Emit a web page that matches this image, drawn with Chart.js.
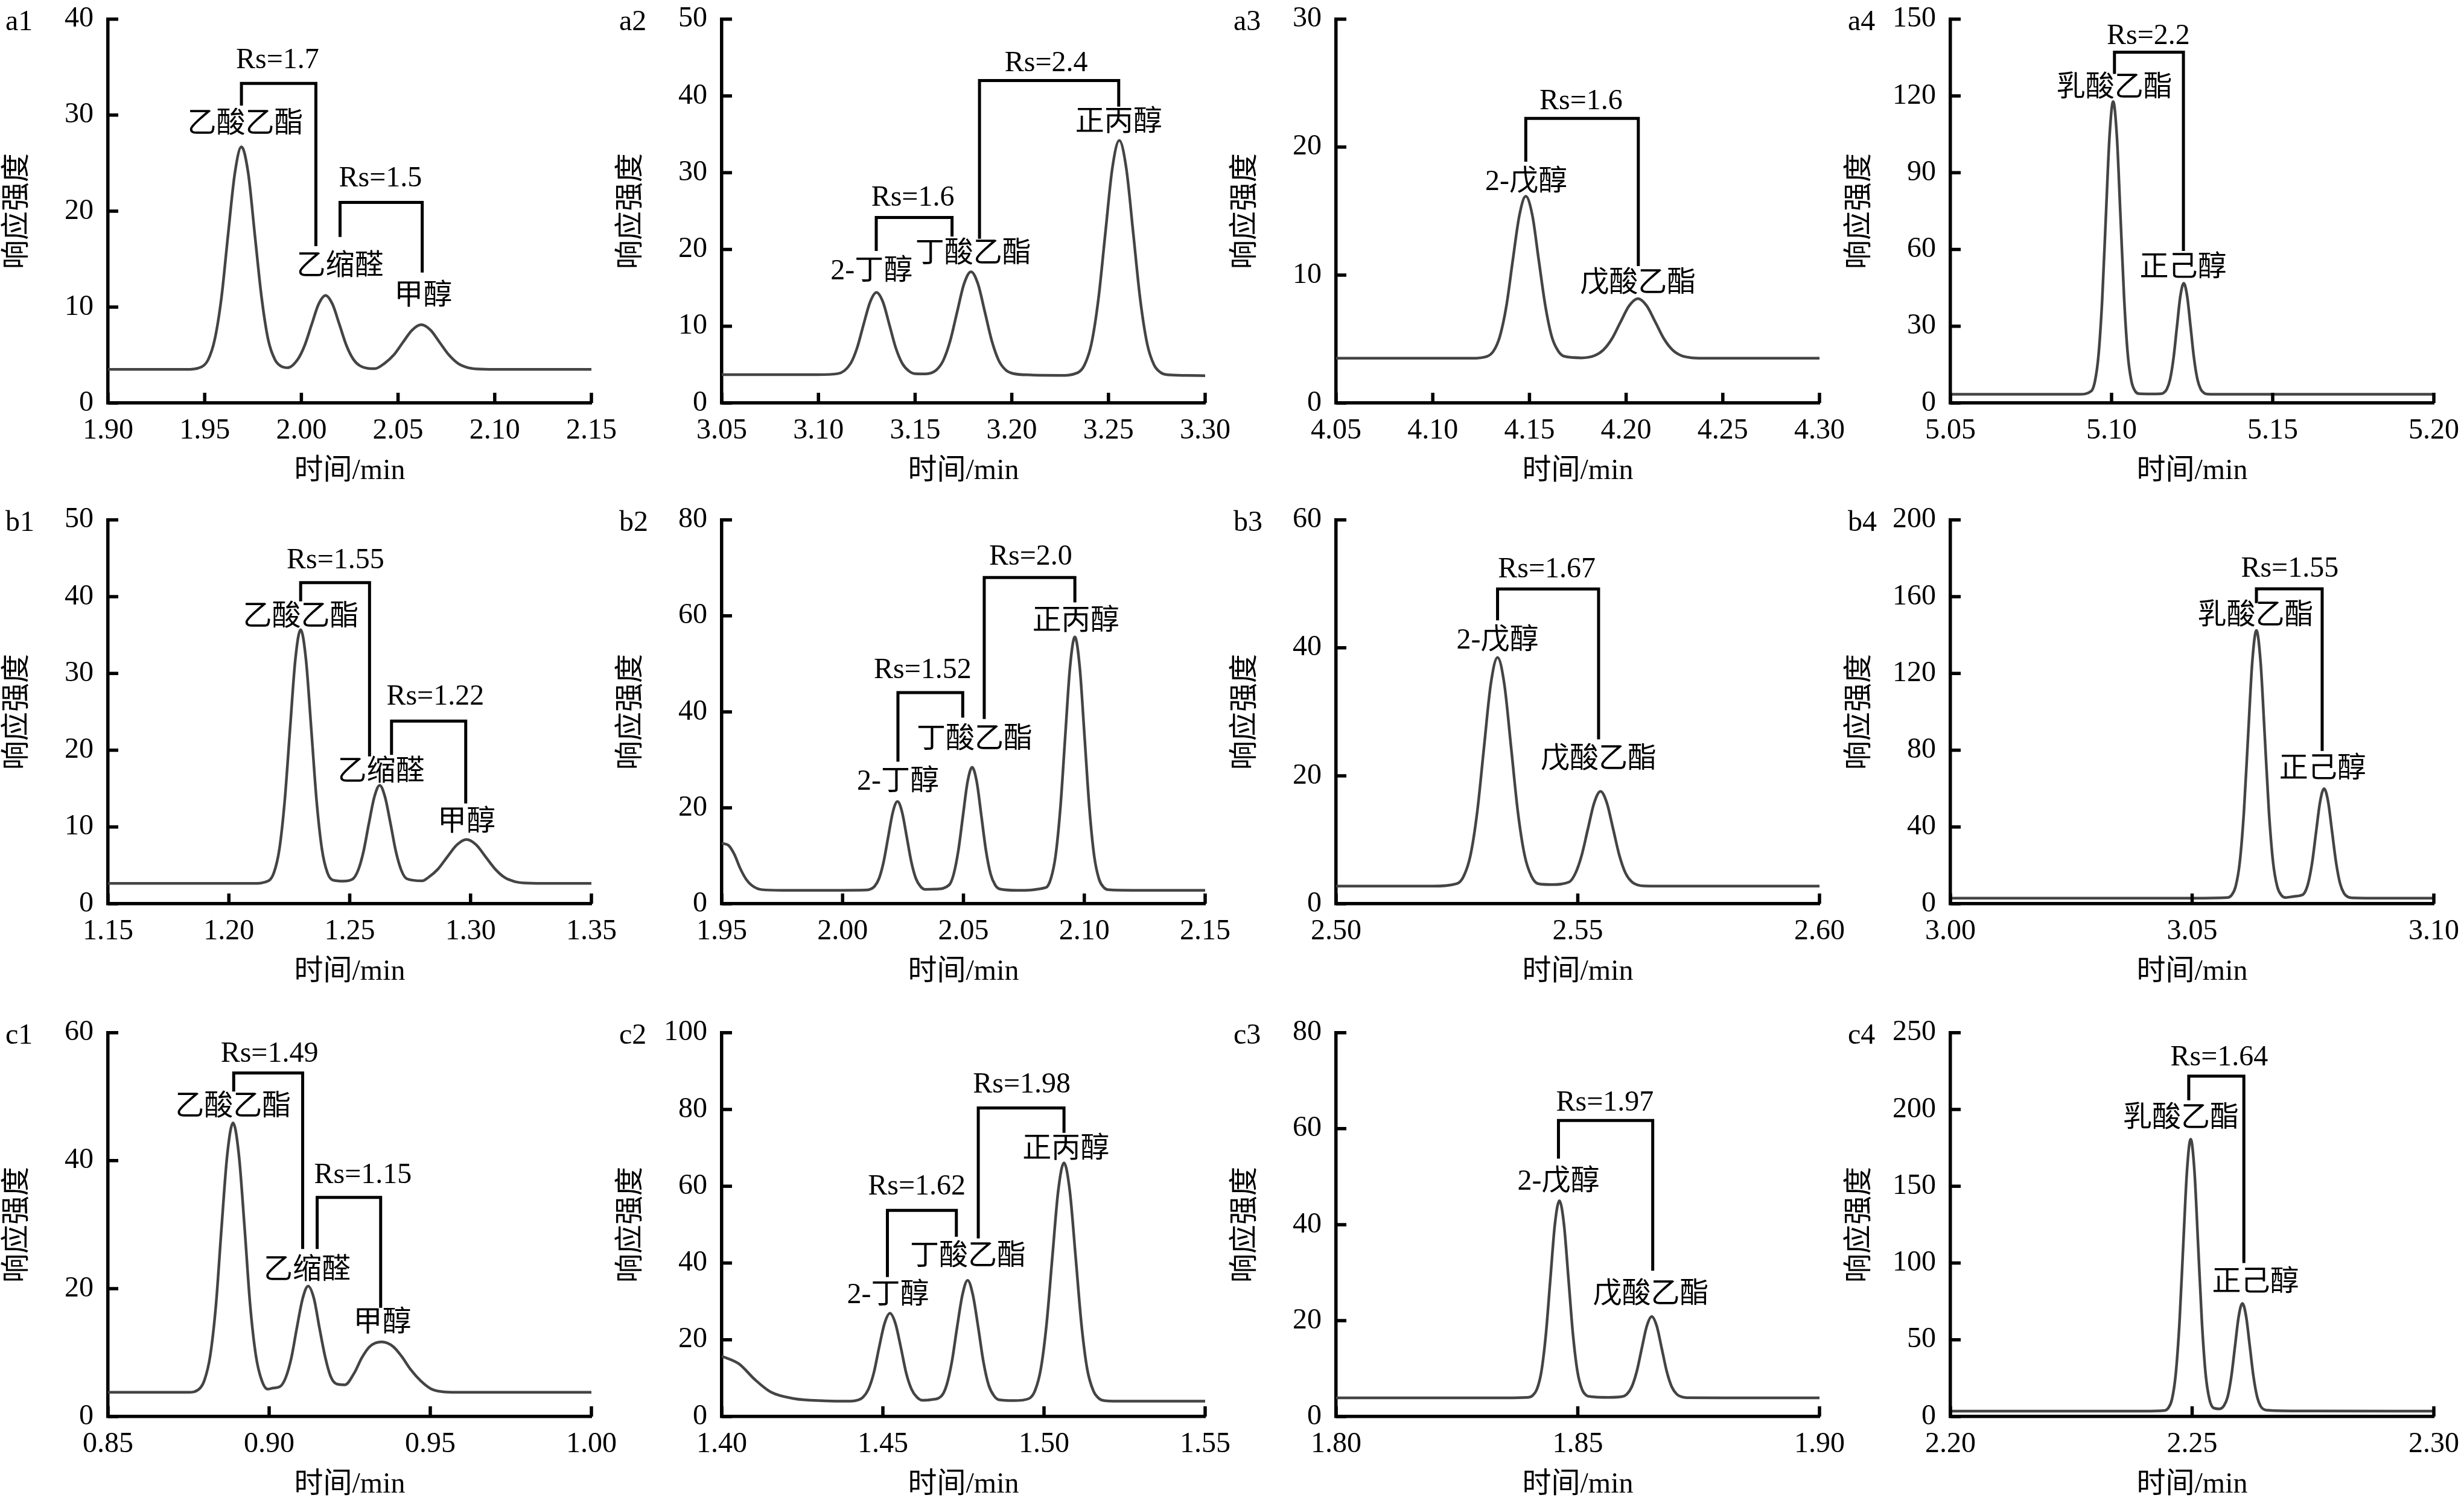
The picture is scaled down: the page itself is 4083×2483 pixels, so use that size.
<!DOCTYPE html>
<html>
<head>
<meta charset="utf-8">
<script src="https://cdn.jsdelivr.net/npm/chart.js@4.4.0/dist/chart.umd.min.js"></script>
<style>
  body { margin: 0; background: #fff; width: 4083px; height: 2483px; position: relative; overflow: hidden; }
  canvas { position: absolute; }
</style>
</head>
<body>
<script>
// ---- a1 ----
const timeA1 = [1.90, 1.94,
  1.9483, 1.9518, 1.9552, 1.9587, 1.9621, 1.9656, 1.969, 1.9725, 1.9759, 1.9794, 1.9828, 1.9863, 1.9897,
  1.993,
  1.9981, 2.0017, 2.0053, 2.0089, 2.0125, 2.0161, 2.0197, 2.0233, 2.0269, 2.0305,
  2.038,
  2.043, 2.0478, 2.0525, 2.0573, 2.062, 2.0668, 2.0715, 2.0763, 2.081, 2.0858, 2.0905,
  2.10, 2.15];
const respA1 = [3.5, 3.5,
  3.76, 4.52, 6.63, 11.04, 17.58, 23.96, 26.7, 23.96, 17.58, 11.04, 6.63, 4.53, 3.81,
  3.68,
  4.54, 6.0, 8.17, 10.29, 11.2, 10.29, 8.17, 6.0, 4.55, 3.86,
  3.58,
  4.13, 5.01, 6.32, 7.6, 8.15, 7.6, 6.32, 5.01, 4.13, 3.7, 3.55,
  3.5, 3.5];
const xTicksA1 = [1.90, 1.95, 2.00, 2.05, 2.10, 2.15];
const yTicksA1 = [0, 10, 20, 30, 40];
const namesA1 = [['乙酸乙酯', 1.971, 29.05], ['乙缩醛', 2.020, 14.2], ['甲醇', 2.063, 11.1]];
const bracketsA1 = [[1.969, 2.0075, 33.3, 31.0, 16.35], [2.020, 2.0625, 20.9, 17.3, 13.6]];
const rsA1 = [['Rs=1.7', 1.9877, 35.7], ['Rs=1.5', 2.0409, 23.35]];

// ---- a2 ----
const timeA2 = [3.05, 3.10,
  3.1099, 3.1166, 3.12, 3.1233, 3.1267, 3.13, 3.1334, 3.1367, 3.14, 3.1434, 3.1468, 3.1501,
  3.1555,
  3.1609, 3.1645, 3.1681, 3.1717, 3.1753, 3.1789, 3.1825, 3.1861, 3.1897, 3.1933, 3.1969, 3.2005,
  3.21, 3.225,
  3.234, 3.2376, 3.2412, 3.2448, 3.2484, 3.252, 3.2556, 3.2592, 3.2628, 3.2664, 3.27, 3.2736, 3.2772, 3.2808,
  3.29, 3.30];
const respA2 = [3.7, 3.7,
  3.82, 5.14, 7.18, 10.19, 13.14, 14.4, 13.14, 10.19, 7.18, 5.14, 4.17, 3.82,
  3.8,
  4.29, 5.51, 8.06, 11.83, 15.52, 17.1, 15.52, 11.83, 8.06, 5.51, 4.29, 3.85,
  3.65, 3.6,
  3.94, 4.95, 7.73, 13.55, 22.17, 30.59, 34.2, 30.59, 22.17, 13.55, 7.73, 4.95, 3.94, 3.67,
  3.6, 3.55];
const xTicksA2 = [3.05, 3.10, 3.15, 3.20, 3.25, 3.30];
const yTicksA2 = [0, 10, 20, 30, 40, 50];
const namesA2 = [['2-丁醇', 3.1275, 17.1], ['丁酸乙酯', 3.1801, 19.4], ['正丙醇', 3.2553, 36.5]];
const bracketsA2 = [[3.1299, 3.1691, 24.16, 19.8, 21.7], [3.1833, 3.2553, 42.0, 21.4, 38.6]];
const rsA2 = [['Rs=1.6', 3.1488, 26.7], ['Rs=2.4', 3.2178, 44.2]];

// ---- a3 ----
const timeA3 = [4.05, 4.12,
  4.128, 4.1314, 4.1347, 4.1381, 4.1414, 4.1448, 4.1481, 4.1515, 4.1548, 4.1582, 4.1615, 4.1649, 4.1682,
  4.177,
  4.1836, 4.1881, 4.1926, 4.1971, 4.2016, 4.2061, 4.2106, 4.2151, 4.2196, 4.2241, 4.2286, 4.2331,
  4.24, 4.30];
const respA3 = [3.5, 3.5,
  3.64, 4.06, 5.21, 7.61, 11.18, 14.67, 16.16, 14.67, 11.18, 7.61, 5.21, 4.06, 3.64,
  3.53,
  3.7, 4.13, 5.01, 6.33, 7.61, 8.16, 7.61, 6.33, 5.01, 4.13, 3.7, 3.55,
  3.5, 3.5];
const xTicksA3 = [4.05, 4.10, 4.15, 4.20, 4.25, 4.30];
const yTicksA3 = [0, 10, 20, 30];
const namesA3 = [['2-戊醇', 4.1483, 17.25], ['戊酸乙酯', 4.2061, 9.3]];
const bracketsA3 = [[4.1481, 4.2063, 22.24, 18.86, 10.7]];
const rsA3 = [['Rs=1.6', 4.1767, 23.55]];

// ---- a4 ----
const timeA4 = [5.05, 5.09,
  5.09369, 5.09483, 5.09596, 5.0971, 5.09823, 5.09937, 5.1005, 5.10164, 5.10277, 5.10391, 5.10504, 5.10618, 5.10731, 5.10845,
  5.112,
  5.11498, 5.11604, 5.1171, 5.11816, 5.11922, 5.12028, 5.12134, 5.1224, 5.12346, 5.12452, 5.12558, 5.12664, 5.1277, 5.12876, 5.12982,
  5.135, 5.20];
const respA4 = [3.4, 3.4,
  4.66, 8.43, 18.84, 40.58, 72.84, 104.3, 117.8, 104.3, 72.84, 40.58, 18.84, 8.43, 4.66, 3.65,
  3.55,
  3.6, 3.88, 5.31, 9.26, 17.5, 29.74, 41.68, 46.8, 41.68, 29.74, 17.5, 9.26, 5.31, 3.88, 3.49,
  3.4, 3.4];
const xTicksA4 = [5.05, 5.10, 5.15, 5.20];
const yTicksA4 = [0, 30, 60, 90, 120, 150];
const namesA4 = [['乳酸乙酯', 5.1009, 123.1], ['正己醇', 5.1222, 52.8]];
const bracketsA4 = [[5.1009, 5.1223, 137.1, 128.6, 59.4]];
const rsA4 = [['Rs=2.2', 5.1114, 143.3]];

// ---- b1 ----
const timeB1 = [1.15, 1.21,
  1.2165, 1.2187, 1.2209, 1.2231, 1.2253, 1.2275, 1.2297, 1.2319, 1.2341, 1.2363, 1.2385, 1.2407, 1.2429,
  1.2475,
  1.2512, 1.2535, 1.2557, 1.2579, 1.2602, 1.2624, 1.2646, 1.2669, 1.2691, 1.2713, 1.2736,
  1.28,
  1.2825, 1.2865, 1.2904, 1.2944, 1.2983, 1.3023, 1.3062, 1.3102, 1.3141, 1.3181, 1.322,
  1.33, 1.35];
const respB1 = [2.65, 2.65,
  3.01, 4.10, 7.12, 13.39, 22.71, 31.80, 35.7, 31.80, 22.71, 13.39, 7.12, 4.10, 3.1,
  2.95,
  3.21, 4.38, 6.80, 10.41, 13.92, 15.43, 13.92, 10.41, 6.81, 4.40, 3.26,
  2.98,
  3.42, 4.51, 6.12, 7.69, 8.37, 7.69, 6.12, 4.51, 3.42, 2.90, 2.71,
  2.65, 2.65];
const xTicksB1 = [1.15, 1.20, 1.25, 1.30, 1.35];
const yTicksB1 = [0, 10, 20, 30, 40, 50];
const namesB1 = [['乙酸乙酯', 1.2298, 37.3], ['乙缩醛', 1.263, 17.1], ['甲醇', 1.2983, 10.55]];
const bracketsB1 = [[1.2297, 1.2582, 41.84, 39.4, 19.2], [1.2673, 1.298, 23.8, 19.4, 13.06]];
const rsB1 = [['Rs=1.55', 1.2441, 44.7], ['Rs=1.22', 1.2854, 26.9]];

// ---- b2 ----
const timeB2 = [1.95, 1.9528, 1.9552, 1.9576, 1.9601, 1.9625, 1.9666, 1.975, 2.0,
  2.0094,
  2.0113, 2.0132, 2.0151, 2.017, 2.0189, 2.0208, 2.0227, 2.0246, 2.0265, 2.0284, 2.0303, 2.0322, 2.0341,
  2.0385,
  2.0441, 2.046, 2.0479, 2.0498, 2.0517, 2.0536, 2.0555, 2.0574, 2.0593, 2.0612, 2.0631, 2.065,
  2.072,
  2.0841, 2.0861, 2.0881, 2.0901, 2.0921, 2.0941, 2.0961, 2.0981, 2.1001, 2.1021, 2.1041, 2.1061, 2.1081, 2.1101,
  2.12, 2.15];
const respB2 = [12.6, 12.16, 10.3, 7.4, 5.1, 3.8, 2.94, 2.8, 2.8,
  2.85,
  3.0, 3.61, 5.30, 8.81, 14.03, 19.12, 21.3, 19.12, 14.03, 8.81, 5.30, 3.61, 3.0,
  3.05,
  3.93, 6.26, 11.14, 18.37, 25.42, 28.45, 25.42, 18.37, 11.14, 6.26, 3.93, 3.08,
  2.8,
  3.38, 5.12, 9.93, 19.96, 34.85, 49.37, 55.6, 49.37, 34.85, 19.96, 9.93, 5.12, 3.38, 2.91,
  2.8, 2.8];
const xTicksB2 = [1.95, 2.00, 2.05, 2.10, 2.15];
const yTicksB2 = [0, 20, 40, 60, 80];
const namesB2 = [['2-丁醇', 2.0229, 25.4], ['丁酸乙酯', 2.0546, 34.2], ['正丙醇', 2.0965, 58.8]];
const bracketsB2 = [[2.0229, 2.0497, 44.0, 29.6, 38.8], [2.0586, 2.0961, 68.0, 38.5, 62.8]];
const rsB2 = [['Rs=1.52', 2.0331, 48.6], ['Rs=2.0', 2.0778, 72.3]];

// ---- b3 ----
const timeB3 = [2.50, 2.52,
  2.525, 2.5264, 2.5278, 2.5292, 2.5306, 2.532, 2.5334, 2.5348, 2.5362, 2.5376, 2.539, 2.5404, 2.5418,
  2.5445,
  2.5482, 2.5495, 2.5508, 2.5521, 2.5534, 2.5547, 2.556, 2.5573, 2.5586, 2.5599, 2.5612, 2.5625, 2.5638,
  2.57, 2.60];
const respB3 = [2.75, 2.75,
  3.14, 4.32, 7.58, 14.38, 24.48, 34.33, 38.5, 34.33, 24.48, 14.38, 7.58, 4.32, 3.14,
  3.0,
  3.40, 4.75, 7.56, 11.73, 15.80, 17.57, 15.80, 11.73, 7.56, 4.75, 3.40, 2.91, 2.78,
  2.75, 2.75];
const xTicksB3 = [2.50, 2.55, 2.60];
const yTicksB3 = [0, 20, 40, 60];
const namesB3 = [['2-戊醇', 2.5334, 41.1], ['戊酸乙酯', 2.5543, 22.5]];
const bracketsB3 = [[2.5334, 2.5543, 49.2, 44.3, 25.7]];
const rsB3 = [['Rs=1.67', 2.5436, 52.2]];

// ---- b4 ----
const timeB4 = [3.00, 3.05,
  3.05728, 3.05814, 3.059, 3.05986, 3.06072, 3.06158, 3.06244, 3.0633, 3.06416, 3.06502, 3.06588, 3.06674, 3.0676, 3.06846, 3.06932,
  3.071,
  3.07235, 3.07318, 3.0740, 3.07483, 3.07565, 3.07648, 3.0773, 3.07813, 3.07895, 3.07978, 3.0806, 3.08143, 3.08225, 3.08308,
  3.09, 3.10];
const respB4 = [2.9, 2.9,
  3.21, 4.43, 9.04, 21.73, 48.24, 87.57, 125.94, 142.4, 125.94, 87.57, 48.24, 21.73, 9.04, 4.43, 3.21,
  3.8,
  4.3, 5.41, 10.61, 21.46, 37.56, 53.26, 60.0, 53.26, 37.56, 21.46, 10.61, 5.41, 3.53, 3.06,
  2.9, 2.9];
const xTicksB4 = [3.00, 3.05, 3.10];
const yTicksB4 = [0, 40, 80, 120, 160, 200];
const namesB4 = [['乳酸乙酯', 3.0631, 149.8], ['正己醇', 3.0770, 70.0]];
const bracketsB4 = [[3.0633, 3.0769, 164.1, 156.6, 79.6]];
const rsB4 = [['Rs=1.55', 3.0702, 174.3]];

// ---- c1 ----
const timeC1 = [0.85, 0.875,
  0.8782, 0.8799, 0.8817, 0.8835, 0.8852, 0.887, 0.8888, 0.8906, 0.8924, 0.8941, 0.8959, 0.8977, 0.8995,
  0.9012,
  0.9034, 0.9051, 0.9069, 0.9086, 0.9104, 0.9121, 0.9139, 0.9156, 0.9174, 0.9191, 0.9209,
  0.9235,
  0.9264, 0.9288, 0.9312, 0.9349, 0.9385, 0.941, 0.944, 0.947, 0.9501, 0.9537,
  0.958, 1.00];
const respC1 = [3.8, 3.8,
  4.26, 5.65, 9.48, 17.48, 29.35, 40.93, 45.9, 40.93, 29.35, 17.48, 9.48, 5.65, 4.29,
  4.45,
  4.7, 6.04, 9.20, 13.88, 18.45, 20.4, 18.45, 13.88, 9.29, 6.25, 5.1,
  4.96,
  6.8, 9.23, 10.93, 11.66, 10.93, 9.48, 7.29, 5.59, 4.37, 3.89,
  3.8, 3.8];
const xTicksC1 = [0.85, 0.90, 0.95, 1.00];
const yTicksC1 = [0, 20, 40, 60];
const namesC1 = [['乙酸乙酯', 0.8888, 48.3], ['乙缩醛', 0.9118, 22.8], ['甲醇', 0.9351, 14.6]];
const bracketsC1 = [[0.889, 0.9104, 53.7, 50.8, 26.2], [0.9149, 0.9346, 34.26, 26.2, 17.0]];
const rsC1 = [['Rs=1.49', 0.9001, 56.6], ['Rs=1.15', 0.9291, 37.7]];

// ---- c2 ----
const timeC2 = [1.40, 1.4054, 1.4102, 1.4151, 1.4224, 1.4321, 1.44,
  1.4421, 1.4438, 1.4455, 1.4472, 1.4488, 1.4505, 1.4522, 1.4539, 1.4556, 1.4572, 1.4589, 1.4606, 1.4623,
  1.465,
  1.4682, 1.4698, 1.4714, 1.473, 1.4747, 1.4763, 1.4779, 1.4796, 1.4812, 1.4828, 1.4845, 1.4861,
  1.4906,
  1.4953, 1.4972, 1.499, 1.5008, 1.5026, 1.5044, 1.5062, 1.508, 1.5098, 1.5116, 1.5134, 1.5153, 1.5171, 1.5189,
  1.525, 1.55];
const respC2 = [15.75, 13.7, 9.7, 6.46, 4.68, 4.1, 4.0,
  4.25, 5.01, 7.09, 11.44, 17.90, 24.20, 26.9, 24.20, 17.90, 11.44, 7.09, 5.01, 4.25,
  4.4,
  5.38, 8.25, 14.24, 23.12, 31.78, 35.5, 31.78, 23.12, 14.24, 8.25, 5.38, 4.35,
  4.15,
  4.68, 6.73, 12.38, 24.18, 41.69, 58.77, 66.1, 58.77, 41.69, 24.18, 12.38, 6.73, 4.68, 4.14,
  4.0, 4.0];
const xTicksC2 = [1.40, 1.45, 1.50, 1.55];
const yTicksC2 = [0, 20, 40, 60, 80, 100];
const namesC2 = [['2-丁醇', 1.4516, 31.5], ['丁酸乙酯', 1.4764, 41.6], ['正丙醇', 1.5068, 69.5]];
const bracketsC2 = [[1.4514, 1.4728, 53.7, 36.35, 46.85], [1.4796, 1.5062, 80.4, 46.4, 73.9]];
const rsC2 = [['Rs=1.62', 1.4605, 59.9], ['Rs=1.98', 1.4931, 86.4]];

// ---- c3 ----
const timeC3 = [1.80, 1.835,
  1.83969, 1.84062, 1.84155, 1.84248, 1.84341, 1.84434, 1.84527, 1.8462, 1.84713, 1.84806, 1.84899, 1.84992, 1.85085, 1.85178, 1.85271,
  1.8564,
  1.85909, 1.86013, 1.86116, 1.8622, 1.86323, 1.86427, 1.8653, 1.86634, 1.86737, 1.8684, 1.86944, 1.87048, 1.87151, 1.87255,
  1.88, 1.90];
const respC3 = [3.9, 3.9,
  3.99, 4.35, 5.71, 9.45, 17.26, 28.85, 40.15, 45.0, 40.15, 28.85, 17.26, 9.45, 5.71, 4.4, 4.15,
  4.0,
  4.15, 4.65, 6.19, 9.41, 14.19, 18.85, 20.85, 18.85, 14.19, 9.41, 6.19, 4.65, 4.09, 3.93,
  3.9, 3.9];
const xTicksC3 = [1.80, 1.85, 1.90];
const yTicksC3 = [0, 20, 40, 60, 80];
const namesC3 = [['2-戊醇', 1.846, 48.9], ['戊酸乙酯', 1.8651, 25.3]];
const bracketsC3 = [[1.846, 1.8655, 61.7, 53.76, 30.4]];
const rsC3 = [['Rs=1.97', 1.8556, 65.4]];

// ---- c4 ----
const timeC4 = [2.20, 2.24,
  2.24428, 2.24505, 2.24583, 2.2466, 2.24738, 2.24815, 2.24893, 2.2497, 2.25048, 2.25125, 2.25203, 2.2528, 2.25358, 2.25435,
  2.2556,
  2.2566, 2.25736, 2.25812, 2.25888, 2.25964, 2.2604, 2.26116, 2.26192, 2.26268, 2.26344, 2.2642, 2.26496, 2.26572, 2.2673,
  2.275, 2.30];
const respC4 = [3.5, 3.5,
  3.89, 5.47, 11.28, 27.42, 61.09, 111.06, 159.8, 180.7, 159.8, 111.06, 61.09, 27.42, 11.28, 5.8,
  5.0,
  7.2, 12.98, 26.32, 46.11, 65.42, 73.7, 65.42, 46.11, 26.32, 12.98, 6.58, 4.5, 4.1, 3.8,
  3.6, 3.5];
const xTicksC4 = [2.20, 2.25, 2.30];
const yTicksC4 = [0, 50, 100, 150, 200, 250];
const namesC4 = [['乳酸乙酯', 2.2477, 193.9], ['正己醇', 2.2631, 87.2]];
const bracketsC4 = [[2.2493, 2.2607, 221.7, 206.0, 99.96]];
const rsC4 = [['Rs=1.64', 2.2556, 233.8]];

// ---- layout ----
const FONT = "'Liberation Serif', 'Noto Sans CJK SC', serif";
const COL_LEFT = [179, 1196, 2214, 3232];
const ROW_TOP = [19, 849, 1699];
const PLOT_W = 811, PLOT_H = 649;
const PAD_TOP = 40, PAD_RIGHT = 50, Y_BOX = 179, X_BOX = 142;
const AXIS_W = 5.5;

Chart.defaults.font.family = FONT;
Chart.defaults.font.size = 48;
Chart.defaults.color = '#000';

const chromPlugin = {
  id: 'chrom',
  afterDraw(chart) {
    const { ctx, chartArea, scales: { x, y } } = chart;
    const opts = chart.options.plugins.chrom;
    ctx.save();
    ctx.strokeStyle = '#000';
    ctx.lineCap = 'butt';
    ctx.lineJoin = 'miter';

    // inward tick marks
    ctx.lineWidth = AXIS_W;
    ctx.beginPath();
    x.ticks.forEach(t => {
      const px = x.getPixelForValue(t.value);
      ctx.moveTo(px, chartArea.bottom);
      ctx.lineTo(px, chartArea.bottom - 17);
    });
    y.ticks.forEach(t => {
      const py = y.getPixelForValue(t.value);
      ctx.moveTo(chartArea.left, py);
      ctx.lineTo(chartArea.left + 17, py);
    });
    ctx.stroke();

    // resolution brackets
    ctx.lineWidth = 5;
    opts.brackets.forEach(b => {
      const x1 = x.getPixelForValue(b[0]);
      const x2 = x.getPixelForValue(b[1]);
      ctx.beginPath();
      ctx.moveTo(x1, y.getPixelForValue(b[3]));
      ctx.lineTo(x1, y.getPixelForValue(b[2]));
      ctx.lineTo(x2, y.getPixelForValue(b[2]));
      ctx.lineTo(x2, y.getPixelForValue(b[4]));
      ctx.stroke();
    });

    // peak names and Rs values
    ctx.fillStyle = '#000';
    ctx.font = '48px ' + FONT;
    ctx.textAlign = 'center';
    ctx.textBaseline = 'middle';
    opts.names.concat(opts.rs).forEach(n => {
      ctx.fillText(n[0], x.getPixelForValue(n[1]), y.getPixelForValue(n[2]));
    });

    // panel tag
    ctx.textAlign = 'left';
    ctx.textBaseline = 'alphabetic';
    ctx.fillText(opts.tag, chartArea.left - 170, chartArea.top + 18);
    ctx.restore();
  }
};

function makePanel(tag, row, col, time, resp, xTicks, yTicks, names, brackets, rs) {
  const canvas = document.createElement('canvas');
  canvas.width = Y_BOX + PLOT_W + PAD_RIGHT;
  canvas.height = PAD_TOP + PLOT_H + X_BOX;
  canvas.style.left = (COL_LEFT[col] - Y_BOX) + 'px';
  canvas.style.top = (ROW_TOP[row] - PAD_TOP) + 'px';
  document.body.appendChild(canvas);

  new Chart(canvas, {
    type: 'line',
    data: {
      datasets: [{
        data: time.map((t, i) => ({ x: t, y: resp[i] })),
        borderColor: '#444',
        borderWidth: 4.5,
        pointRadius: 0,
        cubicInterpolationMode: 'monotone',
        fill: false
      }]
    },
    options: {
      responsive: false,
      animation: false,
      layout: { padding: { top: PAD_TOP, right: PAD_RIGHT, left: 0, bottom: 0 } },
      plugins: {
        legend: { display: false },
        tooltip: { enabled: false },
        chrom: { tag: tag, names: names, brackets: brackets, rs: rs }
      },
      scales: {
        x: {
          type: 'linear',
          min: xTicks[0],
          max: xTicks[xTicks.length - 1],
          afterBuildTicks: s => { s.ticks = xTicks.map(v => ({ value: v })); },
          afterFit: s => { s.height = X_BOX; },
          grid: { display: false, drawTicks: false },
          border: { display: true, color: '#000', width: AXIS_W },
          ticks: { padding: 18, maxRotation: 0, autoSkip: false, callback: v => v.toFixed(2) },
          title: { display: true, text: '时间/min', padding: { top: 0, bottom: 0 } }
        },
        y: {
          min: 0,
          max: yTicks[yTicks.length - 1],
          afterBuildTicks: s => { s.ticks = yTicks.map(v => ({ value: v })); },
          afterFit: s => { s.width = Y_BOX; },
          grid: { display: false, drawTicks: false },
          border: { display: true, color: '#000', width: AXIS_W },
          ticks: { padding: 24, autoSkip: false, callback: v => String(v) },
          title: { display: true, text: '响应强度', padding: { top: 1, bottom: 0 } }
        }
      }
    },
    plugins: [chromPlugin]
  });
}

makePanel('a1', 0, 0, timeA1, respA1, xTicksA1, yTicksA1, namesA1, bracketsA1, rsA1);
makePanel('a2', 0, 1, timeA2, respA2, xTicksA2, yTicksA2, namesA2, bracketsA2, rsA2);
makePanel('a3', 0, 2, timeA3, respA3, xTicksA3, yTicksA3, namesA3, bracketsA3, rsA3);
makePanel('a4', 0, 3, timeA4, respA4, xTicksA4, yTicksA4, namesA4, bracketsA4, rsA4);
makePanel('b1', 1, 0, timeB1, respB1, xTicksB1, yTicksB1, namesB1, bracketsB1, rsB1);
makePanel('b2', 1, 1, timeB2, respB2, xTicksB2, yTicksB2, namesB2, bracketsB2, rsB2);
makePanel('b3', 1, 2, timeB3, respB3, xTicksB3, yTicksB3, namesB3, bracketsB3, rsB3);
makePanel('b4', 1, 3, timeB4, respB4, xTicksB4, yTicksB4, namesB4, bracketsB4, rsB4);
makePanel('c1', 2, 0, timeC1, respC1, xTicksC1, yTicksC1, namesC1, bracketsC1, rsC1);
makePanel('c2', 2, 1, timeC2, respC2, xTicksC2, yTicksC2, namesC2, bracketsC2, rsC2);
makePanel('c3', 2, 2, timeC3, respC3, xTicksC3, yTicksC3, namesC3, bracketsC3, rsC3);
makePanel('c4', 2, 3, timeC4, respC4, xTicksC4, yTicksC4, namesC4, bracketsC4, rsC4);
</script>
</body>
</html>
